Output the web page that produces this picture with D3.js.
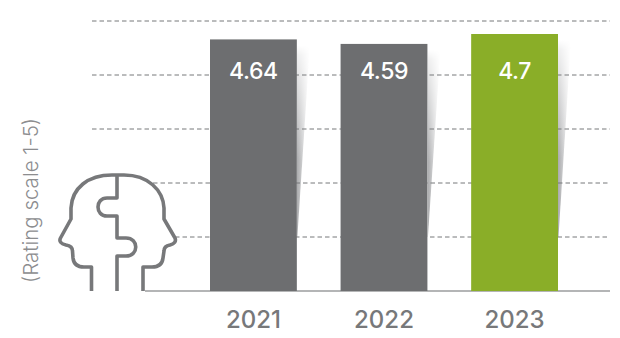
<!DOCTYPE html>
<html><head><meta charset="utf-8">
<script src="https://cdn.jsdelivr.net/npm/d3@7"></script>
<style>html,body{margin:0;background:#fff}svg{display:block}</style>
</head><body><svg id="chart" width="620" height="338"></svg>
<script>
const years = ["2021", "2022", "2023"];
const ratings = [4.64, 4.59, 4.7];
const ratingLabels = ["4.64", "4.59", "4.7"];
const barColors = ["#6d6e70", "#6d6e70", "#8aae28"];
const gridLevels = [1, 2, 3, 4, 5];
const gridStarts = [175, 153, 92, 92, 92];

const svg = d3.select("#chart");
const x = d3.scaleBand().domain(years).range([210, 558]).paddingInner(0.335);
const y = d3.scaleLinear().domain([1.85, 4.7]).range([291, 34]);
const gridY = d3.scaleLinear().domain([0, 5]).range([291, 21]);

// soft shadow falling to the right of each bar
const defs = svg.append("defs");
const fade = defs.append("linearGradient").attr("id", "fade");
fade.append("stop").attr("offset", 0).attr("stop-color", "#a9aaac");
fade.append("stop").attr("offset", 1).attr("stop-color", "#fff");
const fadeV = defs.append("linearGradient").attr("id", "fadeV").attr("x1", 0).attr("x2", 0).attr("y1", 0).attr("y2", 1);
fadeV.append("stop").attr("offset", 0).attr("stop-color", "#000");
fadeV.append("stop").attr("offset", .05).attr("stop-color", "#333");
fadeV.append("stop").attr("offset", .6).attr("stop-color", "#fff");
fadeV.append("stop").attr("offset", 1).attr("stop-color", "#fff");
defs.append("mask").attr("id", "shadowMask").attr("maskContentUnits", "objectBoundingBox")
  .append("rect").attr("width", 1).attr("height", 1).attr("fill", "url(#fadeV)");

svg.append("g").selectAll("path").data(years).join("path")
  .attr("d", (d, i) => {
    const r = x(d) + x.bandwidth(), t = y(ratings[i]) + 6;
    return `M${r},${t}L${r + 13},${t}L${r + 0.5},${gridY(1)}L${r},${gridY(1)}Z`;
  })
  .attr("fill", "url(#fade)").attr("mask", "url(#shadowMask)");

// dashed guides
svg.append("g").selectAll("line").data(gridLevels).join("line")
  .attr("x1", (d, i) => gridStarts[i]).attr("x2", 610)
  .attr("y1", d => gridY(d)).attr("y2", d => gridY(d))
  .attr("stroke", "#77787a").attr("stroke-width", 1).attr("stroke-dasharray", "4.5 3");

svg.append("line").attr("x1", 145).attr("x2", 610).attr("y1", 291).attr("y2", 291)
  .attr("stroke", "#9b9c9e").attr("stroke-width", 1.4);

svg.append("g").selectAll("rect").data(years).join("rect")
  .attr("x", d => x(d)).attr("width", x.bandwidth())
  .attr("y", (d, i) => y(ratings[i])).attr("height", (d, i) => 291 - y(ratings[i]))
  .attr("fill", (d, i) => barColors[i]);

svg.append("g").selectAll("text").data(years).join("text")
  .attr("x", (d, i) => x(d) + x.bandwidth() / 2)
  .attr("y", 79)
  .attr("text-anchor", "middle").attr("fill", "#fff")
  .attr("font-family", "Inter").attr("font-size", 23).attr("font-weight", 500)
  .attr("letter-spacing", -0.4)
  .text((d, i) => ratingLabels[i]);

svg.append("g").selectAll("text").data(years).join("text")
  .attr("x", d => x(d) + x.bandwidth() / 2).attr("y", 328)
  .attr("text-anchor", "middle").attr("fill", "#77787a")
  .attr("font-family", "Inter").attr("font-size", 24).attr("font-weight", 500)
  .text(d => d);

svg.append("text").attr("transform", "translate(38,200.5) rotate(-90)")
  .attr("text-anchor", "middle").attr("fill", "#8c8d8f")
  .attr("font-family", "Inter").attr("font-size", 20.5).attr("font-weight", 300)
  .text("(Rating scale 1-5)");

// two facing heads split by a puzzle seam
const icon = svg.append("g").attr("fill", "none").attr("stroke", "#77787a")
  .attr("stroke-width", 3.6).attr("stroke-linejoin", "round");
icon.append("path").attr("d", "M91.5,291V267H84Q74,267 73,258L72.5,251Q72.5,246 66,245Q58,243 60.5,238L71,219V208C72,188 88,175 112,175H124C148,175 163,190 164,208V219L175,238Q177,243 170,245Q164,246 164,251L163,258Q162,267 152,267H143V291");
icon.append("path").attr("d", "M117,291V256H126C139,256 139,238 126,238H117V216H107C95,216 95,198 107,198H117V175");
</script></body></html>
